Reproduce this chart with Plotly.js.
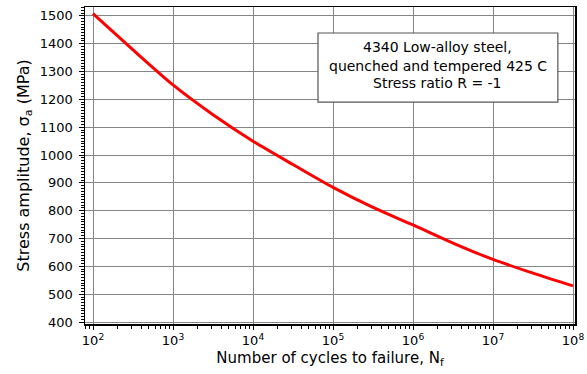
<!DOCTYPE html>
<html>
<head>
<meta charset="utf-8">
<script src="https://cdn.plot.ly/plotly-3.0.1.min.js"></script>
<style>
html,body{margin:0;padding:0;background:#fff;}
#chart{width:587px;height:374px;}
</style>
</head>
<body>
<div id="chart"></div>
<script>
// Cycles to failure (N_f) and stress amplitude (MPa)
const cycles = [1e2, 3.162e2, 1e3, 3.162e3, 1e4, 3.162e4, 1e5, 3.162e5, 1e6, 3.162e6, 1e7, 3.162e7, 1e8];
const stressMPa = [1508, 1378, 1252, 1145, 1050, 966, 884, 812, 749, 684, 625, 576, 530];

// Axis ticks
const xTickExponents = [2, 3, 4, 5, 6, 7, 8];
const yTickValues = [400, 500, 600, 700, 800, 900, 1000, 1100, 1200, 1300, 1400, 1500];

// Note box text
const noteLines = ["4340 Low-alloy steel,", "quenched and tempered 425 C", "Stress ratio R = -1"];

const xTickVals = xTickExponents.map(e => Math.pow(10, e));
const xTickText = xTickExponents.map(e => "10<sup>" + e + "</sup>");

const FONT = "DejaVu Sans, Liberation Sans, Arial, sans-serif";
const GRID = "#858585";

const trace = {
  x: cycles,
  y: stressMPa,
  type: "scatter",
  mode: "lines",
  line: {color: "#ff0000", width: 3, shape: "spline", smoothing: 0.8},
  hoverinfo: "skip",
  showlegend: false
};

const noteY = [0.873, 0.814, 0.759];
const annotations = noteLines.map((t, i) => ({
  text: t,
  xref: "paper", yref: "paper",
  x: 0.7204, y: noteY[i],
  xanchor: "center", yanchor: "middle",
  showarrow: false,
  font: {family: FONT, size: 14, color: "#000"}
}));

const layout = {
  width: 587, height: 374,
  margin: {l: 85, r: 12, t: 7, b: 50, pad: 0},
  paper_bgcolor: "#fff",
  plot_bgcolor: "#fff",
  font: {family: FONT, size: 12, color: "#000"},
  xaxis: {
    type: "log",
    range: [1.9, 8.025],
    tickmode: "array",
    tickvals: xTickVals,
    ticktext: xTickText,
    ticks: "outside", ticklen: 4, tickcolor: "#000", tickwidth: 1,
    showgrid: true, gridcolor: GRID, gridwidth: 1,
    showline: true, linecolor: "#000", linewidth: 1.5, mirror: true,
    zeroline: false,
    minor: {ticks: "outside", ticklen: 3, tickcolor: "#000", showgrid: false, dtick: "D1"},
    tickfont: {family: FONT, size: 13, color: "#000"},
    title: {text: "Number of cycles to failure, N<sub>f</sub>", font: {family: FONT, size: 15, color: "#000"}, standoff: 5}
  },
  yaxis: {
    range: [393, 1532],
    tickmode: "array",
    tickvals: yTickValues,
    ticks: "outside", ticklen: 5, tickcolor: "#000", tickwidth: 1,
    showgrid: true, gridcolor: GRID, gridwidth: 1,
    showline: true, linecolor: "#000", linewidth: 1.5, mirror: true,
    zeroline: false,
    minor: {ticks: "outside", ticklen: 3, tickcolor: "#000", showgrid: false, dtick: 10},
    tickfont: {family: FONT, size: 13, color: "#000"},
    ticklabelstandoff: 3,
    title: {text: "Stress amplitude, σ<sub>a</sub> (MPa)", font: {family: FONT, size: 16, color: "#000"}, standoff: 6}
  },
  shapes: [{
    type: "rect", xref: "paper", yref: "paper",
    x0: 0.4755, x1: 0.965, y0: 0.700, y1: 0.918,
    line: {color: "#555", width: 1.2},
    fillcolor: "#fff",
    layer: "above"
  }],
  annotations: annotations
};

Plotly.newPlot("chart", [trace], layout, {staticPlot: true, displayModeBar: false});
</script>
</body>
</html>
